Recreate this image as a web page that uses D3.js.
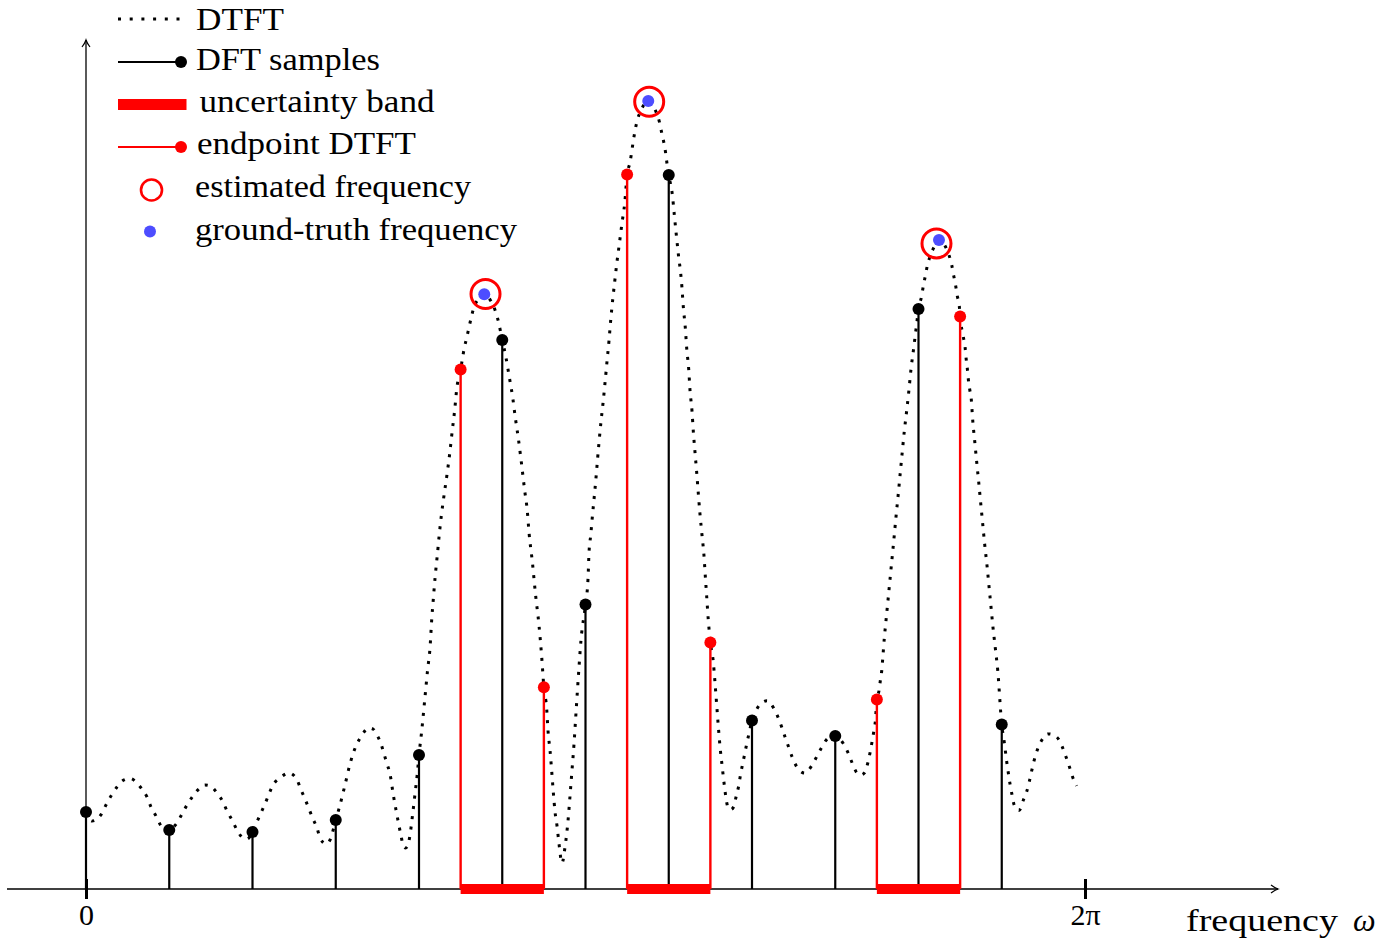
<!DOCTYPE html>
<html>
<head>
<meta charset="utf-8">
<script src="https://cdn.jsdelivr.net/npm/d3@7"></script>
<style>
  body { margin: 0; background: #fff; }
  text { font-family: "Liberation Serif", "Times New Roman", serif; fill: #000; }
</style>
</head>
<body>
<div id="chart"></div>
<script>
// frequency is in DFT-bin units (12 bins = 2pi), magnitude in arbitrary units
var dftBins = [0, 1, 2, 3, 4, 5, 6, 7, 8, 9, 10, 11];
var dftMag = [0.963, 0.738, 0.713, 0.863, 1.675, 6.863, 3.556, 8.925, 2.106, 1.913, 7.25, 2.056];

var endpointBins = [4.5, 5.5, 6.5, 7.5, 9.5, 10.5];
var endpointMag = [6.494, 2.521, 8.931, 3.081, 2.369, 7.156];

var bandRanges = [[4.5, 5.5], [6.5, 7.5], [9.5, 10.5]];

var estimatedBins = [4.799, 6.765, 10.216];
var estimatedMag = [7.438, 9.84, 8.069];

var truthBins = [4.784, 6.754, 10.246];
var truthMag = [7.434, 9.85, 8.113];

var tickValues = [0, 12];
var tickLabels = ["0", "2π"];

var legendLabels = ["DTFT", "DFT samples", "uncertainty band", "endpoint DTFT",
    "estimated frequency", "ground-truth frequency"];

// DTFT magnitude: [bin, magnitude]
var dtft = [
  [0, 0.963], [0.072, 0.85], [0.187, 0.938], [0.240, 1.05], [0.300, 1.163], [0.372, 1.275],
  [0.456, 1.363], [0.529, 1.381], [0.589, 1.35], [0.661, 1.263], [0.733, 1.15], [0.781, 1.025],
  [0.841, 0.913], [0.901, 0.788], [0.961, 0.725], [1.0, 0.738], [1.093, 0.825], [1.153, 0.938],
  [1.213, 1.05], [1.285, 1.163], [1.369, 1.263], [1.429, 1.30], [1.490, 1.288], [1.574, 1.20],
  [1.646, 1.088], [1.694, 0.975], [1.754, 0.863], [1.814, 0.738], [1.886, 0.638], [1.934, 0.625],
  [2.0, 0.713], [2.042, 0.813], [2.090, 0.925], [2.150, 1.063], [2.198, 1.188], [2.246, 1.30],
  [2.330, 1.388], [2.438, 1.45], [2.535, 1.363], [2.583, 1.238], [2.631, 1.125], [2.679, 1.0],
  [2.727, 0.875], [2.775, 0.763], [2.811, 0.638], [2.883, 0.563], [2.931, 0.613], [3.0, 0.863],
  [3.051, 1.05], [3.111, 1.30], [3.171, 1.563], [3.207, 1.688], [3.255, 1.813], [3.315, 1.925],
  [3.399, 2.013], [3.447, 2.0], [3.495, 1.925], [3.544, 1.813], [3.580, 1.688], [3.616, 1.563],
  [3.652, 1.438], [3.691, 1.179], [3.736, 0.921], [3.784, 0.666], [3.811, 0.541], [3.838, 0.513],
  [3.864, 0.541], [3.892, 0.675], [3.924, 0.938], [3.952, 1.188], [3.980, 1.446], [4.0, 1.675],
  [4.032, 1.971], [4.056, 2.225], [4.080, 2.488], [4.104, 2.746], [4.132, 3.009], [4.154, 3.388],
  [4.174, 3.65], [4.195, 3.913], [4.219, 4.163], [4.243, 4.425], [4.270, 4.681], [4.303, 4.938],
  [4.340, 5.209], [4.372, 5.471], [4.400, 5.734], [4.429, 5.991], [4.453, 6.25], [4.5, 6.494],
  [4.544, 6.763], [4.573, 6.891], [4.601, 7.021], [4.628, 7.146], [4.657, 7.263], [4.721, 7.384],
  [4.787, 7.438], [4.861, 7.354], [4.913, 7.238], [4.949, 7.113], [5.0, 6.863], [5.041, 6.663],
  [5.085, 6.396], [5.126, 6.141], [5.157, 5.891], [5.193, 5.634], [5.225, 5.371], [5.271, 4.969],
  [5.301, 4.725], [5.321, 4.463], [5.363, 4.075], [5.399, 3.688], [5.441, 3.30], [5.474, 2.90],
  [5.5, 2.521], [5.534, 2.25], [5.550, 1.975], [5.574, 1.73], [5.594, 1.475], [5.613, 1.213],
  [5.634, 0.963], [5.658, 0.788], [5.682, 0.563], [5.718, 0.325], [5.754, 0.525], [5.793, 0.888],
  [5.814, 1.163], [5.838, 1.488], [5.862, 1.813], [5.882, 2.138], [5.902, 2.463], [5.922, 2.775],
  [5.946, 3.113], [6.0, 3.556], [6.030, 3.875], [6.042, 4.20], [6.063, 4.425], [6.082, 4.65],
  [6.106, 4.913], [6.126, 5.138], [6.147, 5.40], [6.166, 5.625], [6.190, 5.881], [6.214, 6.108],
  [6.238, 6.366], [6.258, 6.591], [6.282, 6.85], [6.303, 7.113], [6.327, 7.368], [6.351, 7.594],
  [6.375, 7.813], [6.406, 8.059], [6.438, 8.321], [6.471, 8.571], [6.5, 8.931], [6.535, 9.084],
  [6.555, 9.216], [6.574, 9.35], [6.595, 9.479], [6.622, 9.609], [6.667, 9.734], [6.754, 9.85],
  [6.843, 9.725], [6.887, 9.591], [6.915, 9.454], [6.943, 9.321], [6.964, 9.191], [6.979, 9.066],
  [7.0, 8.925], [7.045, 8.663], [7.067, 8.425], [7.091, 8.175], [7.117, 7.919], [7.144, 7.688],
  [7.159, 7.513], [7.175, 7.275], [7.199, 7.013], [7.216, 6.754], [7.240, 6.495], [7.255, 6.238],
  [7.279, 5.979], [7.295, 5.72], [7.315, 5.463], [7.336, 5.203], [7.355, 4.945], [7.375, 4.688],
  [7.399, 4.428], [7.423, 4.169], [7.439, 3.913], [7.456, 3.653], [7.475, 3.363], [7.5, 3.081],
  [7.535, 2.841], [7.556, 2.575], [7.576, 2.30], [7.595, 2.038], [7.616, 1.779], [7.643, 1.521],
  [7.672, 1.259], [7.688, 1.134], [7.720, 1.0], [7.748, 0.994], [7.780, 1.029], [7.811, 1.163],
  [7.840, 1.288], [7.860, 1.416], [7.883, 1.541], [7.908, 1.666], [7.932, 1.791], [7.960, 1.925],
  [8.0, 2.106], [8.028, 2.184], [8.084, 2.291], [8.180, 2.354], [8.264, 2.254], [8.316, 2.138],
  [8.360, 2.016], [8.400, 1.891], [8.441, 1.771], [8.484, 1.646], [8.537, 1.529], [8.633, 1.45],
  [8.717, 1.541], [8.777, 1.654], [8.837, 1.771], [8.913, 1.884], [9.0, 1.913], [9.102, 1.809],
  [9.157, 1.696], [9.205, 1.571], [9.258, 1.454], [9.303, 1.425], [9.349, 1.45], [9.390, 1.571],
  [9.418, 1.704], [9.441, 1.834], [9.462, 1.963], [9.481, 2.088], [9.5, 2.369], [9.526, 2.481],
  [9.541, 2.60], [9.558, 2.725], [9.570, 2.876], [9.589, 3.131], [9.613, 3.391], [9.637, 3.646],
  [9.661, 3.906], [9.685, 4.163], [9.709, 4.421], [9.733, 4.688], [9.758, 4.948], [9.781, 5.203],
  [9.805, 5.463], [9.829, 5.718], [9.858, 5.978], [9.886, 6.246], [9.910, 6.50], [9.942, 6.759],
  [9.974, 7.029], [10.0, 7.25], [10.038, 7.413], [10.058, 7.538], [10.082, 7.663], [10.106, 7.791],
  [10.142, 7.916], [10.190, 8.029], [10.246, 8.113], [10.318, 8.041], [10.366, 7.925], [10.399, 7.80],
  [10.423, 7.666], [10.447, 7.538], [10.466, 7.413], [10.490, 7.288], [10.5, 7.156], [10.538, 6.904],
  [10.559, 6.779], [10.571, 6.641], [10.586, 6.509], [10.598, 6.375], [10.615, 6.246], [10.634, 6.121],
  [10.651, 5.863], [10.675, 5.60], [10.699, 5.338], [10.723, 5.088], [10.747, 4.825], [10.771, 4.568],
  [10.795, 4.308], [10.823, 4.043], [10.847, 3.783], [10.871, 3.525], [10.895, 3.268], [10.923, 3.008],
  [10.951, 2.741], [11.0, 2.056], [11.031, 1.83], [11.060, 1.588], [11.079, 1.451], [11.099, 1.315],
  [11.123, 1.18], [11.151, 1.045], [11.207, 0.98], [11.259, 1.11], [11.300, 1.218], [11.331, 1.343],
  [11.360, 1.479], [11.387, 1.598], [11.427, 1.738], [11.480, 1.858], [11.559, 1.939], [11.660, 1.90],
  [11.727, 1.776], [11.772, 1.651], [11.811, 1.533], [11.848, 1.408], [11.900, 1.289]
];

var width = 1391, height = 938;
var red = "#ff0000", blue = "#4d4dff";

var svg = d3.select("#chart").append("svg")
    .attr("width", width)
    .attr("height", height);

var x = d3.scaleLinear().domain([0, 12]).range([86, 1085]);
var y = d3.scaleLinear().domain([0, 10]).range([889, 89]);

// arrow head for both axes
svg.append("defs").append("marker")
    .attr("id", "arrow")
    .attr("viewBox", "-10 -6 12 12")
    .attr("refX", 0).attr("refY", 0)
    .attr("markerWidth", 12).attr("markerHeight", 12)
    .attr("markerUnits", "userSpaceOnUse")
    .attr("orient", "auto")
    .append("path")
    .attr("d", "M-7,-4 Q-3,-1 0,0 Q-3,1 -7,4")
    .attr("fill", "none")
    .attr("stroke", "#000")
    .attr("stroke-width", 1.2);

// axes lines
svg.append("line")
    .attr("x1", 7).attr("x2", 1278)
    .attr("y1", y(0)).attr("y2", y(0))
    .attr("stroke", "#000").attr("stroke-width", 1.3)
    .attr("marker-end", "url(#arrow)");

svg.append("line")
    .attr("x1", x(0)).attr("x2", x(0))
    .attr("y1", y(0)).attr("y2", 40)
    .attr("stroke", "#000").attr("stroke-width", 1.3)
    .attr("marker-end", "url(#arrow)");

var xAxis = d3.axisBottom(x)
    .tickValues(tickValues)
    .tickFormat(function(d, i) { return tickLabels[i]; })
    .tickSize(10);

var axisG = svg.append("g")
    .attr("transform", `translate(0, ${y(0)})`)
    .call(xAxis);
axisG.select(".domain").remove();
axisG.selectAll(".tick line")
    .attr("y1", -10).attr("y2", 10)
    .attr("stroke", "#000").attr("stroke-width", 3);
axisG.selectAll(".tick text")
    .attr("y", 36).attr("dy", null)
    .attr("font-size", 30)
    .attr("font-family", "Liberation Serif, serif");

svg.append("text")
    .attr("x", 1186).attr("y", 931)
    .attr("font-size", 32)
    .attr("textLength", 152)
    .attr("lengthAdjust", "spacingAndGlyphs")
    .text("frequency");
svg.append("text")
    .attr("x", 1353).attr("y", 931)
    .attr("font-size", 32)
    .attr("font-style", "italic")
    .text("ω");

// DTFT dotted curve
var line = d3.line()
    .x(d => x(d[0]))
    .y(d => y(d[1]))
    .curve(d3.curveMonotoneX);

svg.append("path")
    .datum(dtft)
    .attr("d", line)
    .attr("fill", "none")
    .attr("stroke", "#000")
    .attr("stroke-width", 3)
    .attr("stroke-dasharray", "3 7.4");

// DFT stems
svg.selectAll(".dftStem")
    .data(dftBins)
    .enter()
    .append("line")
    .attr("class", "dftStem")
    .attr("x1", d => x(d)).attr("x2", d => x(d))
    .attr("y1", y(0))
    .attr("y2", (d, i) => y(dftMag[i]))
    .attr("stroke", "#000")
    .attr("stroke-width", 2.2);

// endpoint stems
svg.selectAll(".endStem")
    .data(endpointBins)
    .enter()
    .append("line")
    .attr("class", "endStem")
    .attr("x1", d => x(d)).attr("x2", d => x(d))
    .attr("y1", y(0))
    .attr("y2", (d, i) => y(endpointMag[i]))
    .attr("stroke", red)
    .attr("stroke-width", 2.4);

// uncertainty bands
svg.selectAll(".band")
    .data(bandRanges)
    .enter()
    .append("line")
    .attr("class", "band")
    .attr("x1", d => x(d[0])).attr("x2", d => x(d[1]))
    .attr("y1", y(0)).attr("y2", y(0))
    .attr("stroke", red)
    .attr("stroke-width", 10);

svg.selectAll(".dftDot")
    .data(dftBins)
    .enter()
    .append("circle")
    .attr("cx", d => x(d))
    .attr("cy", (d, i) => y(dftMag[i]))
    .attr("r", 6)
    .attr("fill", "#000");

svg.selectAll(".endDot")
    .data(endpointBins)
    .enter()
    .append("circle")
    .attr("cx", d => x(d))
    .attr("cy", (d, i) => y(endpointMag[i]))
    .attr("r", 6)
    .attr("fill", red);

svg.selectAll(".truth")
    .data(truthBins)
    .enter()
    .append("circle")
    .attr("cx", d => x(d))
    .attr("cy", (d, i) => y(truthMag[i]))
    .attr("r", 6)
    .attr("fill", blue);

svg.selectAll(".estimate")
    .data(estimatedBins)
    .enter()
    .append("circle")
    .attr("cx", d => x(d))
    .attr("cy", (d, i) => y(estimatedMag[i]))
    .attr("r", 14.5)
    .attr("fill", "none")
    .attr("stroke", red)
    .attr("stroke-width", 3);

// legend
var legendX = [196, 196, 199.5, 197, 195, 195];
var legendY = [30, 69.5, 111.5, 154, 196.5, 239.5];
var legendW = [88, 184, 235, 219, 276, 322];

var legend = svg.append("g");

legend.append("line")
    .attr("x1", 118).attr("x2", 184).attr("y1", 19).attr("y2", 19)
    .attr("stroke", "#000").attr("stroke-width", 3)
    .attr("stroke-dasharray", "3 8.7");

legend.append("line")
    .attr("x1", 118).attr("x2", 181).attr("y1", 62).attr("y2", 62)
    .attr("stroke", "#000").attr("stroke-width", 2.2);
legend.append("circle")
    .attr("cx", 181).attr("cy", 62).attr("r", 6).attr("fill", "#000");

legend.append("rect")
    .attr("x", 118).attr("y", 99).attr("width", 68.5).attr("height", 11)
    .attr("fill", red);

legend.append("line")
    .attr("x1", 118).attr("x2", 181).attr("y1", 147).attr("y2", 147)
    .attr("stroke", red).attr("stroke-width", 2.2);
legend.append("circle")
    .attr("cx", 181).attr("cy", 147).attr("r", 6).attr("fill", red);

legend.append("circle")
    .attr("cx", 151.5).attr("cy", 190).attr("r", 10.5)
    .attr("fill", "none").attr("stroke", red).attr("stroke-width", 2.6);

legend.append("circle")
    .attr("cx", 150).attr("cy", 231.5).attr("r", 6).attr("fill", blue);

legend.selectAll(".legendText")
    .data(legendLabels)
    .enter()
    .append("text")
    .attr("class", "legendText")
    .attr("x", (d, i) => legendX[i])
    .attr("y", (d, i) => legendY[i])
    .attr("font-size", 32)
    .attr("textLength", (d, i) => legendW[i])
    .attr("lengthAdjust", "spacingAndGlyphs")
    .text(d => d);
</script>
</body>
</html>
